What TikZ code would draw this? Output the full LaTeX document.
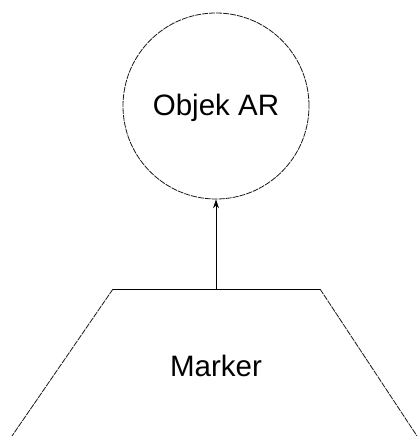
\documentclass[tikz,border=0pt]{standalone}
\usepackage{fontspec}
\setmainfont{Liberation Sans}
\usetikzlibrary{arrows.meta}
\begin{document}
\begin{tikzpicture}[x=1pt,y=-1pt,
  thinedge/.style={line width=0.8pt, draw=black!90, dash pattern=on 6pt off 1pt},
  solidedge/.style={line width=0.9pt, draw=black},
  lbl/.style={font=\fontsize{29.5}{31}\selectfont, text=black}]
  \useasboundingbox (0,0) rectangle (419,436);
  \fill[white] (0,0) rectangle (419,436);
  \clip (0,0) rectangle (419,436);
  % Objek AR circle
  \node[circle, thinedge, minimum size=186pt, inner sep=0pt] (objek) at (216,106) {};
  \node[lbl] (objektext) at (216,108) {Objek AR};
  % Marker trapezoid
  \coordinate (tl) at (113,289);
  \coordinate (tr) at (320,289);
  \coordinate (bl) at (12,436);
  \coordinate (br) at (417,436);
  \coordinate (mtop) at (216,289);
  \draw[solidedge] (tl) -- (tr);
  \draw[thinedge] (tl) -- (bl);
  \draw[thinedge] (tr) -- (br);
  \node[lbl] (marker) at (216,366) {Marker};
  % connector
  \draw[solidedge, -{Stealth[length=9pt,width=6pt]}] (mtop) -- (objek.south);
\end{tikzpicture}
\end{document}
